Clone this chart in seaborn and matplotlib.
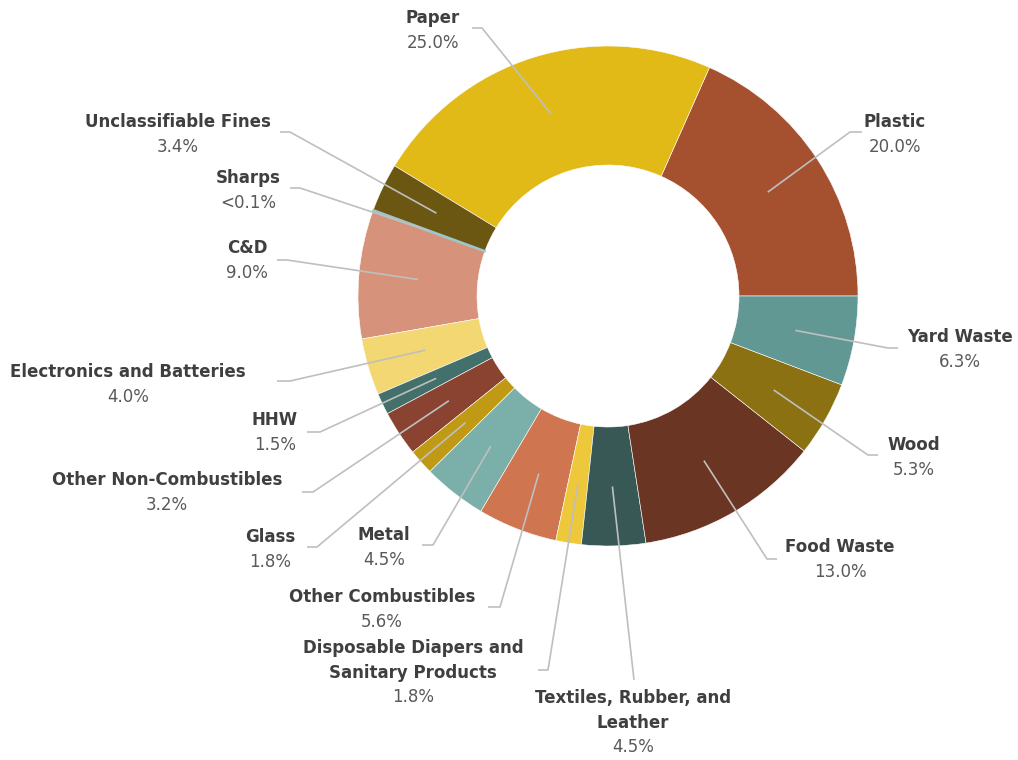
import numpy as np
import matplotlib
matplotlib.use("Agg")
import matplotlib.pyplot as plt
import seaborn as sns

# ---------------- data ----------------
categories = [
    "Plastic", "Paper", "Unclassifiable Fines", "Sharps", "C&D",
    "Electronics and Batteries", "HHW", "Other Non-Combustibles", "Glass",
    "Metal", "Other Combustibles",
    "Disposable Diapers and\nSanitary Products",
    "Textiles, Rubber, and\nLeather", "Food Waste", "Wood", "Yard Waste",
]
values = [20.0, 25.0, 3.4, 0.1, 9.0, 4.0, 1.5, 3.2, 1.8, 4.5, 5.6, 1.8, 4.5, 13.0, 5.3, 6.3]
pct_labels = ["20.0%", "25.0%", "3.4%", "<0.1%", "9.0%", "4.0%", "1.5%", "3.2%", "1.8%",
              "4.5%", "5.6%", "1.8%", "4.5%", "13.0%", "5.3%", "6.3%"]
colors = ["#A5502E", "#E2BA18", "#6B5612", "#9CC6C9", "#D6927A", "#F2D773",
          "#44706C", "#894330", "#C09A14", "#7BAFA9", "#CF7550", "#ECC83A",
          "#375854", "#6A3522", "#8B7112", "#619894"]

# ---------------- layout (pixel coords, y down) ----------------
label_xy = [(895, 122), (433, 18), (178, 122), (248, 178), (247, 248), (128, 372),
            (275, 420), (167, 480), (270, 537), (384, 535), (382, 597), (413, 648),
            (633, 698), (840, 547), (914, 445), (960, 337)]
elbow_xy = [(850, 132), (482, 28), (290, 132), (300, 188), (287, 260), (290, 381),
            (320, 432), (313, 492), (317, 547), (433, 545), (500, 607), (548, 670),
            (634, 680), (767, 559), (868, 455), (888, 348)]
end_xy = [(862, 132), (472, 28), (280, 132), (290, 188), (277, 260), (277, 381),
          (307, 432), (302, 492), (307, 547), (422, 545), (488, 607), (538, 670),
          (634, 680), (777, 559), (878, 455), (898, 348)]

W, H = 1018, 760
CX, CY = 608, 296
R_OUT, R_IN = 250, 131

sns.set_theme(style="white")
plt.rcParams["font.family"] = ["DejaVu Sans"]

fig = plt.figure(figsize=(W / 100, H / 100), dpi=100)
ax = fig.add_axes([0, 0, 1, 1])


def P(x, y):
    return x, H - y


wedges, _ = ax.pie(values, colors=colors, startangle=0, counterclock=True,
                   center=P(CX, CY), radius=R_OUT,
                   wedgeprops=dict(width=R_OUT - R_IN, edgecolor="white", linewidth=0.4))
# keep the tiny "Sharps" sliver visible, as in the original rendering
for w, c, v in zip(wedges, colors, values):
    if v < 0.5:
        w.set_edgecolor(c)
        w.set_linewidth(1.3)
        w.set_zorder(2.5)

ax.set_xlim(0, W)
ax.set_ylim(0, H)
ax.set_aspect("equal")
ax.axis("off")

r_mid = (R_OUT + R_IN) / 2
line_col = "#BFBFBF"
for i, w in enumerate(wedges):
    mid = np.deg2rad((w.theta1 + w.theta2) / 2)
    sx = CX + r_mid * np.cos(mid)
    sy = H - CY + r_mid * np.sin(mid)
    ex, ey = P(*elbow_xy[i])
    fx, fy = P(*end_xy[i])
    ax.plot([sx, ex, fx], [sy, ey, fy], color=line_col, lw=1.2,
            solid_capstyle="butt", zorder=3)

    lx, ly = label_xy[i]
    name_lines = categories[i].split("\n")
    for k, ln in enumerate(name_lines):
        ax.text(*P(lx, ly + 24.5 * k), ln, ha="center", va="center",
                fontsize=12, fontweight="bold", color="#3F3F3F")
    ax.text(*P(lx, ly + 24.5 * len(name_lines) + 0.5), pct_labels[i], ha="center",
            va="center", fontsize=12, color="#595959")

fig.savefig("out.png", dpi=100, facecolor="white")
